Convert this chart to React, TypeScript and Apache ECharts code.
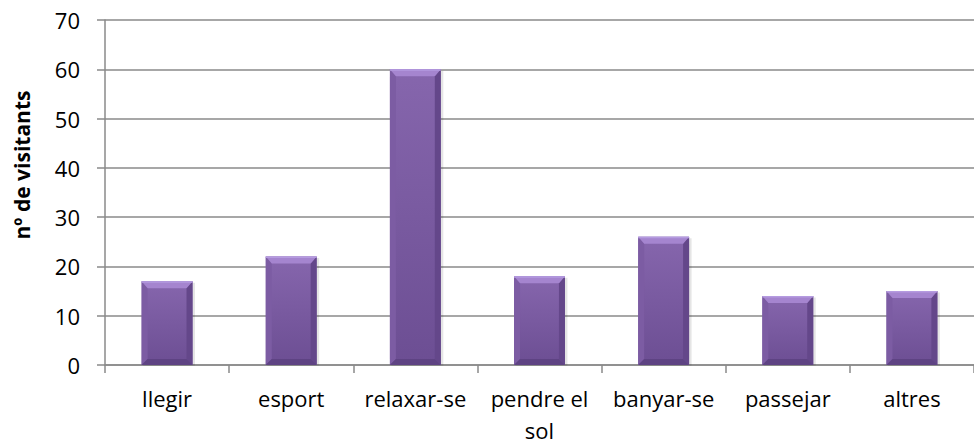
import React, { useEffect, useRef } from "react";
import * as echarts from "echarts";

const categories = ["llegir", "esport", "relaxar-se", "pendre el\nsol", "banyar-se", "passejar", "altres"];
const values = [17, 22, 60, 18, 26, 14, 15];
const yTicks = { min: 0, max: 70, interval: 10 };
const yAxisTitle = "nº de visitants";

const FONT = "'Open Sans', sans-serif";

export default function App() {
  const ref = useRef<HTMLDivElement>(null);
  useEffect(() => {
    if (!ref.current) return;
    const chart = echarts.init(ref.current, undefined, { renderer: "svg" });
    chart.setOption({
      animation: false,
      backgroundColor: "#ffffff",
      grid: { left: 105, right: -6, top: 20, bottom: 78, containLabel: false },
      graphic: [
        {
          type: "text",
          x: 22,
          y: 165,
          rotation: Math.PI / 2,
          style: {
            text: yAxisTitle,
            fontFamily: FONT,
            fontSize: 21,
            fontWeight: "bold",
            fill: "#000",
            textAlign: "center",
            textVerticalAlign: "middle",
          },
        },
      ],
      xAxis: {
        type: "category",
        data: categories,
        axisLine: { lineStyle: { color: "#8a8a8a", width: 1.5 } },
        axisTick: { show: true, alignWithLabel: false, length: 8, lineStyle: { color: "#8a8a8a", width: 1.5 } },
        axisLabel: {
          fontFamily: FONT,
          fontSize: 22,
          color: "#000",
          margin: 17,
          lineHeight: 32,
          interval: 0,
        },
      },
      yAxis: {
        type: "value",
        min: yTicks.min,
        max: yTicks.max,
        interval: yTicks.interval,
        axisLine: { show: true, lineStyle: { color: "#8a8a8a", width: 1.5 } },
        axisTick: { show: true, inside: false, length: 8, lineStyle: { color: "#8a8a8a", width: 1.5 } },
        splitLine: { show: true, lineStyle: { color: "#8a8a8a", width: 1.5 } },
        axisLabel: { fontFamily: FONT, fontSize: 22, color: "#000", margin: 25 },
      },
      series: [
        {
          type: "custom",
          data: values.map((v, i) => [i, v]),
          encode: { x: 0, y: 1 },
          renderItem: (params: any, api: any) => {
            const top = api.coord([api.value(0), api.value(1)]);
            const base = api.coord([api.value(0), 0]);
            const w = api.size([1, 0])[0] * 0.41;
            const x0 = top[0] - w / 2;
            const x1 = top[0] + w / 2;
            const y0 = top[1];
            const y1 = base[1];
            const b = 6;
            const bt = 7;
            return {
              type: "group",
              children: [
                {
                  type: "rect",
                  shape: { x: x0 + 1.5, y: y0 + 1.5, width: w + 1, height: y1 - y0 - 1 },
                  style: { fill: "rgba(0,0,0,0.10)" },
                },
                {
                  type: "rect",
                  shape: { x: x0, y: y0, width: w, height: y1 - y0 },
                  style: {
                    fill: new echarts.graphic.LinearGradient(0, 0, 0, 1, [
                      { offset: 0, color: "#8666ad" },
                      { offset: 1, color: "#6c4e93" },
                    ]),
                  },
                },
                {
                  type: "polygon",
                  shape: { points: [[x0, y0], [x0 + b, y0 + bt], [x0 + b, y1 - b], [x0, y1]] },
                  style: { fill: "#7c5ca3" },
                },
                {
                  type: "polygon",
                  shape: { points: [[x1, y0], [x1 - b, y0 + bt], [x1 - b, y1 - b], [x1, y1]] },
                  style: { fill: "#64478a" },
                },
                {
                  type: "polygon",
                  shape: { points: [[x0, y1], [x0 + b, y1 - b], [x1 - b, y1 - b], [x1, y1]] },
                  style: { fill: "#5e4383" },
                },
                {
                  type: "polygon",
                  shape: { points: [[x0, y0], [x1, y0], [x1 - b, y0 + bt], [x0 + b, y0 + bt]] },
                  style: { fill: "#a585cf" },
                },
                {
                  type: "rect",
                  shape: { x: x0, y: y0, width: w, height: 1.5 },
                  style: { fill: "#b59be0" },
                },
              ],
            };
          },
        },
      ],
    });
    return () => chart.dispose();
  }, []);
  return (
    <div
      ref={ref}
      style={{ position: "fixed", left: 0, top: 0, width: 974, height: 446 }}
    />
  );
}
